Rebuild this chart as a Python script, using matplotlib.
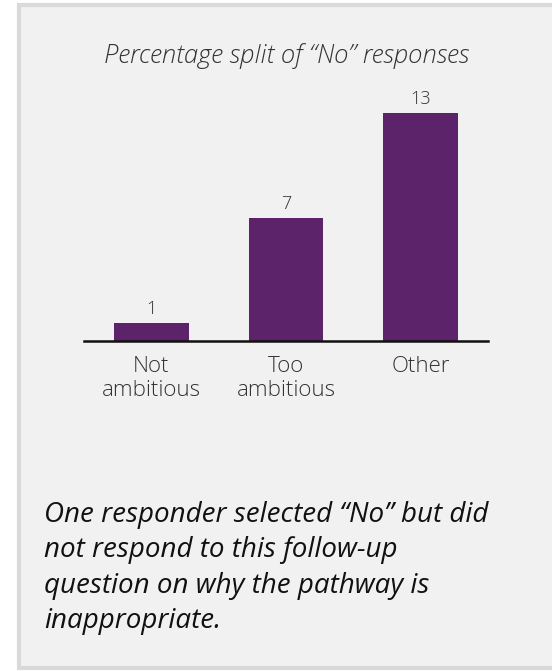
import matplotlib
matplotlib.use("Agg")
import matplotlib.pyplot as plt
from matplotlib.patches import Rectangle

# data
categories = ["Not\nambitious", "Too\nambitious", "Other"]
counts = [1, 7, 13]
title = "Percentage split of \u201cNo\u201d responses"
note = ("One responder selected \u201cNo\u201d but did\n"
        "not respond to this follow-up\n"
        "question on why the pathway is\n"
        "inappropriate.")

W, H = 552, 671
plt.rcParams['font.family'] = ['Open Sans', 'DejaVu Sans']
fig = plt.figure(figsize=(W / 100, H / 100), dpi=100)
fig.patch.set_facecolor("white")

# card background with grey border
card = Rectangle((19 / W, 1 - 668 / H), (W + 10) / W, (668 - 5) / H,
                 transform=fig.transFigure, facecolor="#f1f1f1",
                 edgecolor="#d9d9d9", linewidth=3, zorder=-5)
fig.patches.append(card)

# axes in pixel placement
left, right, bottom, top = 84, 488, 341, 100
ax = fig.add_axes([left / W, 1 - bottom / H, (right - left) / W, (bottom - top) / H])
ax.set_facecolor("none")
ax.set_zorder(2)
x = range(len(categories))
bars = ax.bar(x, counts, width=0.555, color="#5c236b", zorder=2)
ax.set_xlim(-0.5, 2.5)
ax.set_ylim(0, (bottom - top) / 17.54)
for xi, v in zip(x, counts):
    ax.text(xi, v + 0.3, str(v), ha="center", va="bottom", fontsize=13,
            color="#333333", fontweight="light")

for s in ["top", "right", "left"]:
    ax.spines[s].set_visible(False)
ax.spines["bottom"].set_linewidth(1.8)
ax.spines["bottom"].set_color("#111111")
ax.set_yticks([])
ax.set_xticks(list(x))
ax.set_xticklabels(categories, fontsize=16, color="#333333", linespacing=1.2,
                   fontweight="light")
ax.tick_params(axis="x", length=0, pad=11)

fig.text(287 / W, 1 - 63 / H, title, ha="center", va="baseline", fontsize=18.5,
         style="italic", color="#333333", fontweight="light")

# va="baseline" on multi-line text aligns the last line
fig.text(44 / W, 1 - 628 / H, note, ha="left", va="baseline",
         fontsize=20, style="italic", color="#111111", linespacing=1.35)

fig.savefig("out.png", dpi=100, facecolor=fig.get_facecolor())
